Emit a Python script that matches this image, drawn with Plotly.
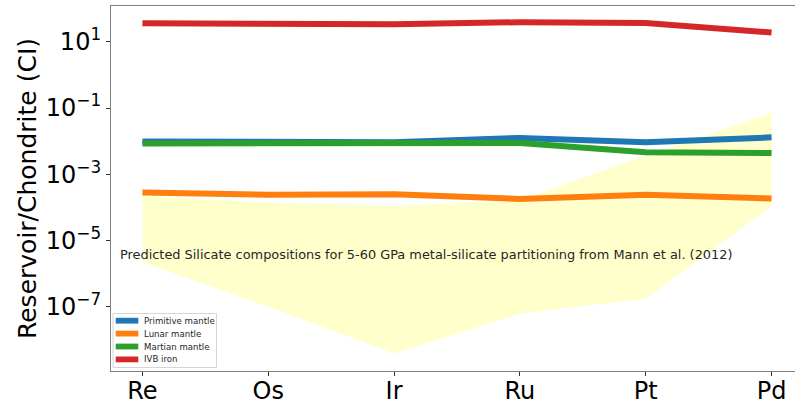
import plotly.graph_objects as go

elements = ["Re", "Os", "Ir", "Ru", "Pt", "Pd"]
primitive_mantle = [0.0098, 0.0097, 0.0092, 0.0125, 0.0092, 0.0130]
lunar_mantle = [2.8e-4, 2.4e-4, 2.5e-4, 1.8e-4, 2.4e-4, 1.85e-4]
martian_mantle = [0.0085, 0.0088, 0.0085, 0.0088, 0.0046, 0.0044]
ivb_iron = [36, 35, 34, 39, 37, 19]
silicate_upper = [2.2e-4, 1.4e-4, 1.1e-4, 1.65e-4, 3.7e-3, 0.072]
silicate_lower = [2.2e-6, 1.0e-7, 3.9e-9, 6.2e-8, 1.74e-7, 1.1e-4]

ytick_vals = [1e1, 1e-1, 1e-3, 1e-5, 1e-7]
ytick_text = ["10<sup>1</sup>", "10<sup>−1</sup>", "10<sup>−3</sup>", "10<sup>−5</sup>", "10<sup>−7</sup>"]

annotation_text = "Predicted Silicate compositions for 5-60 GPa metal-silicate partitioning from Mann et al. (2012)"

xi = list(range(len(elements)))
font = "DejaVu Sans"

# figure is slightly wider than the window: the right edge of the axes is cropped, as in the reference
W, H = 803, 400
ML, MR, MT, MB = 111, 0, 6, 29
PW, PH = W - ML - MR, H - MT - MB


def px(x):
    return (x - ML) / PW


def py(y):
    return (H - MB - y) / PH


fig = go.Figure()
fig.add_trace(go.Scatter(x=xi, y=silicate_lower, mode="lines", line=dict(width=0),
                         showlegend=False, hoverinfo="skip"))
fig.add_trace(go.Scatter(x=xi, y=silicate_upper, mode="lines", line=dict(width=0),
                         fill="tonexty", fillcolor="rgba(255,255,153,0.5)",
                         showlegend=False, hoverinfo="skip"))

series = [
    ("Primitive mantle", primitive_mantle, "#1f77b4"),
    ("Lunar mantle", lunar_mantle, "#ff7f0e"),
    ("Martian mantle", martian_mantle, "#2ca02c"),
    ("IVB iron", ivb_iron, "#d62728"),
]
for name, vals, col in series:
    fig.add_trace(go.Scatter(x=xi, y=vals, mode="lines", name=name,
                             line=dict(color=col, width=6), showlegend=False))

fig.add_annotation(x=-0.197, y=-5.42, xref="x", yref="y", text=annotation_text,
                   showarrow=False, xanchor="left", yanchor="middle",
                   font=dict(family=font, size=12.9, color="#262626"))

# legend drawn as a box with handles
shapes = [dict(type="rect", xref="paper", yref="paper",
               x0=px(113), x1=px(216.5), y0=py(367.5), y1=py(313.5),
               line=dict(color="#d5d5d5", width=1), fillcolor="rgba(255,255,255,0.8)",
               layer="above")]
for i, (name, vals, col) in enumerate(series):
    yc = 320.7 + i * 12.9
    shapes.append(dict(type="rect", xref="paper", yref="paper",
                       x0=px(115.7), x1=px(138.3), y0=py(yc + 2.9), y1=py(yc - 2.9),
                       line=dict(width=0), fillcolor=col, layer="above"))
    fig.add_annotation(x=px(142), y=py(yc), xref="paper", yref="paper", text=name,
                       showarrow=False, xanchor="left", yanchor="middle",
                       font=dict(family=font, size=8.6, color="#262626"))

fig.update_layout(
    width=W, height=H,
    margin=dict(l=ML, r=MR, t=MT, b=MB, autoexpand=False),
    paper_bgcolor="white", plot_bgcolor="white",
    font=dict(family=font, color="black"),
    showlegend=False,
    shapes=shapes,
    xaxis=dict(range=[-0.25, 5.25], tickvals=xi, ticktext=elements, automargin=False,
               showgrid=False, zeroline=False, showline=True, linecolor="#808080",
               linewidth=1.2, mirror=True, ticks="outside", ticklen=4,
               ticklabelstandoff=-6,
               tickcolor="#333333", tickfont=dict(size=24, family=font)),
    yaxis=dict(type="log", range=[-8.94, 2.08], tickvals=ytick_vals, ticktext=ytick_text,
               automargin=False,
               showgrid=False, zeroline=False, showline=True, linecolor="#808080",
               linewidth=1.2, ticks="outside", ticklen=4, tickcolor="#333333",
               tickfont=dict(size=24, family=font),
               title=dict(text="Reservoir/Chondrite (CI)", font=dict(size=25, family=font),
                          standoff=2)),
)

fig.write_html("out.html", config={"displayModeBar": False},
               post_script=("document.documentElement.style.overflow='hidden';"
                            "document.body.style.margin='0';"
                            "document.body.style.overflow='hidden';"))
